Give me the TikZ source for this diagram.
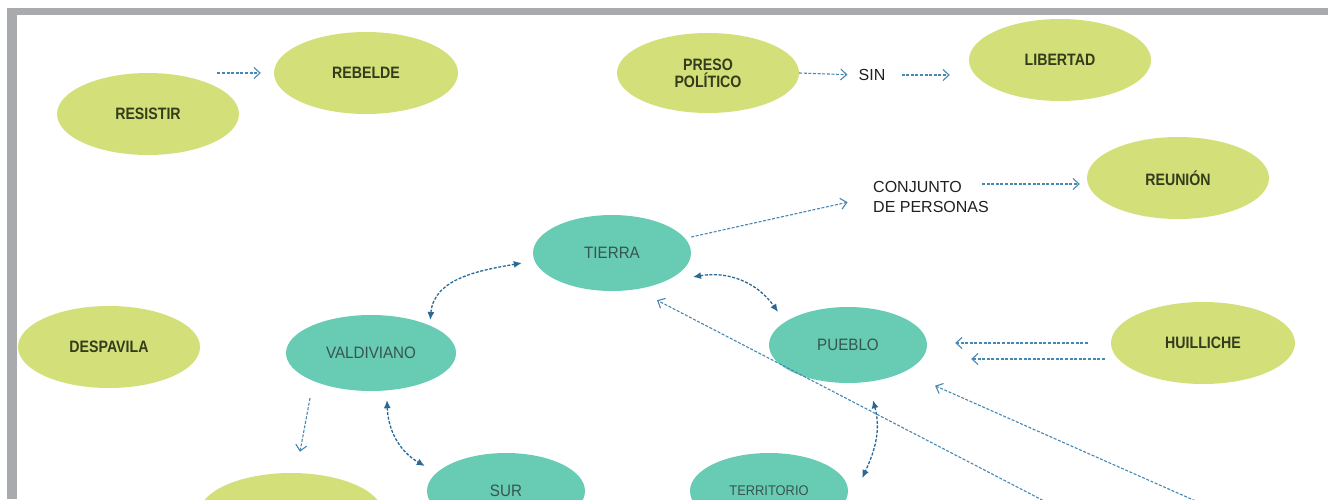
\documentclass[tikz,border=0pt]{standalone}
\usepackage{fontspec}
\setmainfont{Liberation Sans}
\newfontfamily\gfont[FakeStretch=0.86]{Liberation Sans Bold}
\newfontfamily\tfont[FakeStretch=0.92]{Liberation Sans}
\usetikzlibrary{shapes.geometric,arrows.meta}
\definecolor{gfill}{RGB}{211,224,122}
\definecolor{tfill}{RGB}{104,203,180}
\definecolor{gtext}{RGB}{52,60,28}
\definecolor{ttext}{RGB}{55,85,80}
\definecolor{arrblue}{RGB}{70,135,180}
\definecolor{darrblue}{RGB}{40,105,150}
\definecolor{framegray}{RGB}{168,170,173}
\begin{document}
\begin{tikzpicture}[x=1pt,y=1pt,
  esize/.style 2 args={minimum width=#1pt, minimum height=#2pt},
  gnode/.style={ellipse, fill=gfill, inner sep=0pt, text=gtext, align=center,
    font=\gfont\fontsize{16.5}{17}\selectfont},
  tnode/.style={ellipse, fill=tfill, inner sep=0pt, text=ttext, align=center,
    font=\tfont\fontsize{16.5}{17}\selectfont},
  plain/.style={inner sep=2pt, text=black!88, font=\fontsize{16}{20}\selectfont},
  arr/.style={draw=arrblue, line width=1.1pt, dash pattern=on 3pt off 1.6pt,
    -{Straight Barb[length=6pt,width=11pt,line width=1.1pt]}},
  darr/.style={draw=darrblue, line width=1.3pt, dash pattern=on 3pt off 1.6pt,
    {Latex[length=8pt,width=7pt]}-{Latex[length=8pt,width=7pt]}}]
\useasboundingbox (0,0) rectangle (1328,499);
\clip (0,0) rectangle (1328,499);
\fill[framegray] (7,484) rectangle (1328,491);
\fill[framegray] (7,0) rectangle (17,491);

% nodes
\node[gnode, esize={182}{82}] (resistir) at (148,385) {RESISTIR};
\node[gnode, esize={184}{82}] (rebelde) at (366,426) {REBELDE};
\node[gnode, esize={182}{80}] (preso) at (708,426) {PRESO\\POLÍTICO};
\node[plain] (sin) at (872,424) {SIN};
\node[gnode, esize={182}{82}] (libertad) at (1060,439) {LIBERTAD};
\node[plain, anchor=west, align=left] (conjunto) at (871,302) {CONJUNTO\\DE PERSONAS};
\node[gnode, esize={182}{82}] (reunion) at (1178,321) {REUNIÓN};
\node[tnode, esize={158}{76}] (tierra) at (612,246) {TIERRA};
\node[gnode, esize={182}{82}] (despavila) at (109,152) {DESPAVILA};
\node[tnode, esize={170}{76}] (valdiviano) at (371,146) {VALDIVIANO};
\node[tnode, esize={158}{76}] (pueblo) at (848,154) {PUEBLO};
\node[gnode, esize={184}{82}] (huilliche) at (1203,156) {HUILLICHE};
\node[tnode, esize={158}{76}] (sur) at (506,8) {SUR};
\node[tnode, esize={158}{76}, font=\tfont\fontsize{14}{16}\selectfont] (territorio) at (769,8) {TERRITORIO};
\node[gnode, esize={184}{82}] (bottom) at (291,-15) {};

% straight connectors
\draw[arr, shorten <=5pt, shorten >=13pt] (resistir.north east |- rebelde.west) -- (rebelde.west);
\draw[arr, shorten >=9pt] (preso.east) -- (sin.west);
\draw[arr, shorten <=14pt, shorten >=19pt] (sin.east) -- (sin.east -| libertad.west);
\draw[arr, shorten >=24pt] ([yshift=16pt]tierra.east) -- (conjunto.west);
\coordinate (c1) at (982,315);
\draw[arr, shorten >=7pt] (c1) -- (c1 -| reunion.west);
\draw[arr, shorten <=23pt, shorten >=28pt] (huilliche.west) -- (huilliche.west -| pueblo.east);
\coordinate (h2) at ([yshift=-16pt]huilliche.west);
\draw[arr, shorten <=6pt, shorten >=44pt] (h2) -- (h2 -| pueblo.east);
\coordinate (e1) at (1250,-26);
\draw[arr, shorten >=34pt] (e1) -- (pueblo.south east);
\coordinate (e2) at (1100,-31);
\draw[arr] (e2) -- ([shift={(45,-9)}]tierra.south);
\draw[arr] ([shift={(-61,-7)}]valdiviano.south) -- ([shift={(9,21)}]bottom.north);

% curved double connectors
\draw[darr] ([shift={(-1,6)}]valdiviano.north east) to[out=85,in=190] ([shift={(-11,-10)}]tierra.west);
\draw[darr] ([shift={(25,3)}]tierra.south east) to[out=10,in=125] ([shift={(-14,6)}]pueblo.north west);
\draw[darr] ([shift={(16,-9)}]valdiviano.south) to[out=-88,in=150] ([shift={(-2,25)}]sur.west);
\draw[darr] ([shift={(25,-17)}]pueblo.south) to[out=-75,in=65] ([shift={(14,13)}]territorio.east);
\end{tikzpicture}
\end{document}
